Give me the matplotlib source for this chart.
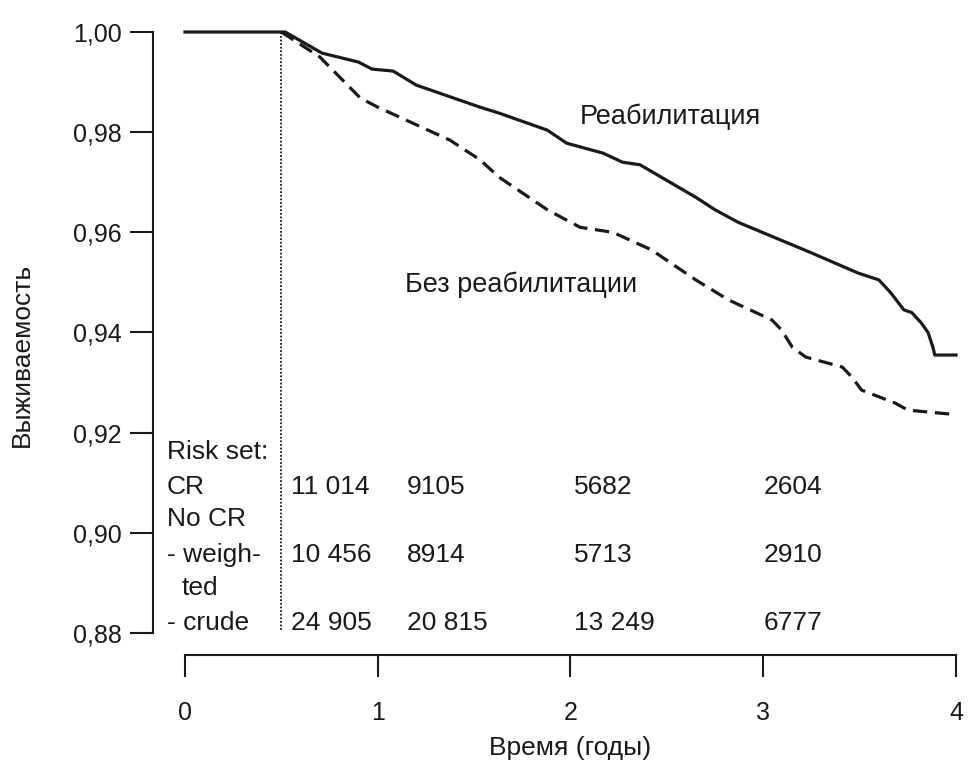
import matplotlib
matplotlib.use("Agg")
import matplotlib.pyplot as plt

plt.rcParams['font.family'] = ['Liberation Sans', 'DejaVu Sans']

# survival curves
rehab_t = [0, 0.52, 0.71, 0.90, 0.97, 1.08, 1.20, 1.53, 1.63, 1.88, 1.98, 2.17, 2.27, 2.36,
           2.65, 2.75, 2.87, 3.25, 3.49, 3.60, 3.66, 3.73, 3.77, 3.82, 3.855, 3.88, 3.89, 4.0]
rehab_s = [1.0, 1.0, 0.9958, 0.9940, 0.9926, 0.9922, 0.9894, 0.9850, 0.9838, 0.9804, 0.9778,
           0.9758, 0.9740, 0.9735, 0.9670, 0.9645, 0.9620, 0.9559, 0.9519, 0.9505, 0.9480,
           0.9445, 0.9440, 0.9419, 0.9400, 0.9371, 0.9355, 0.9355]

norehab_t = [0.5, 0.70, 0.91, 1.0, 1.375, 1.53, 1.63, 1.88, 2.05, 2.22, 2.42, 2.65, 2.82,
             3.045, 3.095, 3.15, 3.22, 3.41, 3.46, 3.51, 3.685, 3.75, 4.0]
norehab_s = [1.0, 0.995, 0.9868, 0.985, 0.9784, 0.9745, 0.971, 0.9645, 0.961, 0.960, 0.9565,
             0.9505, 0.9465, 0.9425, 0.9405, 0.9371, 0.9351, 0.9331, 0.9311, 0.9285, 0.9259,
             0.9245, 0.9236]

# risk set table
risk_cols = [0.548, 1.152, 2.02, 3.0]
risk_cr = ["11 014", "9105", "5682", "2604"]
risk_weighted = ["10 456", "8914", "5713", "2910"]
risk_crude = ["24 905", "20 815", "13 249", "6777"]

yticks = [0.88, 0.90, 0.92, 0.94, 0.96, 0.98, 1.00]
ytick_labels = ["0,88", "0,90", "0,92", "0,94", "0,96", "0,98", "1,00"]
xticks = [0, 1, 2, 3, 4]

ink = "#1a1a1a"

fig = plt.figure(figsize=(9.68, 7.64), dpi=100)
ax = fig.add_axes([0.1911, 0.1715, 0.7965, 0.7866])

ax.plot(rehab_t, rehab_s, color=ink, lw=2.3, clip_on=False, solid_joinstyle="round")
ax.plot(norehab_t, norehab_s, color=ink, lw=2.3, dashes=(4.5, 2.4), clip_on=False)
ax.plot([0.5, 0.5], [0.8805, 1.0], color=ink, lw=1.3, linestyle=(0, (1, 1)), clip_on=False)

ax.set_xlim(0, 4)
ax.set_ylim(0.88, 1.00)

for s in ["top", "right"]:
    ax.spines[s].set_visible(False)
ax.spines["left"].set_position(("outward", 23))
ax.spines["bottom"].set_position(("outward", 16))
ax.spines["left"].set_linewidth(1.5)
ax.spines["bottom"].set_linewidth(1.5)
ax.spines["left"].set_color(ink)
ax.spines["bottom"].set_color(ink)

ax.set_yticks(yticks)
ax.set_yticklabels(ytick_labels)
ax.set_xticks(xticks)
ax.tick_params(axis="y", length=16.5, width=1.5, pad=6, labelsize=18, colors=ink)
ax.tick_params(axis="x", length=16, width=1.5, pad=17, labelsize=18, colors=ink)

ax.set_xlabel("Время (годы)", fontsize=19, color=ink)
ax.xaxis.label.set_va("center")
ax.xaxis.set_label_coords(0.5, -0.191)
ax.set_ylabel("Выживаемость", fontsize=19, color=ink)
ax.yaxis.label.set_va("center")
ax.yaxis.set_label_coords(-0.211, 0.463)

ax.text(2.05, 0.983, "Реабилитация", fontsize=19.5, va="center", ha="left", color=ink)
ax.text(1.143, 0.9495, "Без реабилитации", fontsize=19.5, va="center", ha="left", color=ink)

tfs = 19
lx = -0.094
ax.text(lx, 0.9161, "Risk set:", fontsize=tfs, va="center", color=ink, clip_on=False)
ax.text(lx, 0.9091, "CR", fontsize=tfs, va="center", color=ink, clip_on=False)
ax.text(lx, 0.9028, "No CR", fontsize=tfs, va="center", color=ink, clip_on=False)
ax.text(lx, 0.8956, "- weigh-", fontsize=tfs, va="center", color=ink, clip_on=False)
ax.text(-0.016, 0.8890, "ted", fontsize=tfs, va="center", color=ink, clip_on=False)
ax.text(lx, 0.8820, "- crude", fontsize=tfs, va="center", color=ink, clip_on=False)

for x, a, b, c in zip(risk_cols, risk_cr, risk_weighted, risk_crude):
    ax.text(x, 0.9091, a, fontsize=tfs, va="center", ha="left", color=ink)
    ax.text(x, 0.8956, b, fontsize=tfs, va="center", ha="left", color=ink)
    ax.text(x, 0.8820, c, fontsize=tfs, va="center", ha="left", color=ink)

fig.savefig("out.png", dpi=100)
